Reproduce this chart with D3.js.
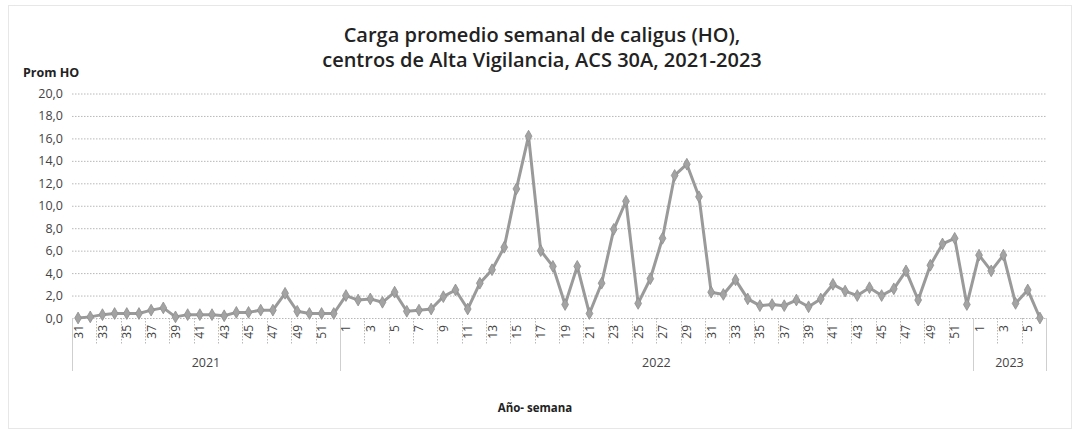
<!DOCTYPE html>
<html>
<head>
<meta charset="utf-8">
<script src="https://cdn.jsdelivr.net/npm/d3@7"></script>
<style>
  body { margin: 0; background: #fff; }
  svg { display: block; font-family: "Open Sans", "Liberation Sans", sans-serif; }
</style>
</head>
<body>
<div class="chart"></div>
<script>
// weeks per year (category axis)
var weeks2021 = [31, 32, 33, 34, 35, 36, 37, 38, 39, 40, 41, 42, 43, 44, 45, 46, 47, 48, 49, 50, 51, 52];
var values2021 = [0.0, 0.1, 0.3, 0.4, 0.4, 0.4, 0.7, 0.9, 0.1, 0.3, 0.3, 0.3, 0.2, 0.5, 0.5, 0.7, 0.7, 2.2, 0.6, 0.4, 0.4, 0.4];

var weeks2022 = [1, 2, 3, 4, 5, 6, 7, 8, 9, 10, 11, 12, 13, 14, 15, 16, 17, 18, 19, 20, 21, 22, 23, 24, 25, 26,
                 27, 28, 29, 30, 31, 32, 33, 34, 35, 36, 37, 38, 39, 40, 41, 42, 43, 44, 45, 46, 47, 48, 49, 50, 51, 52];
var values2022 = [2.0, 1.6, 1.7, 1.4, 2.3, 0.6, 0.7, 0.8, 1.9, 2.5, 0.8, 3.1, 4.3, 6.3, 11.5, 16.2, 6.0, 4.6, 1.2, 4.6, 0.4, 3.1, 7.9, 10.4, 1.3, 3.5,
                  7.1, 12.7, 13.7, 10.8, 2.3, 2.1, 3.4, 1.7, 1.1, 1.2, 1.1, 1.6, 1.0, 1.7, 3.0, 2.4, 2.0, 2.7, 2.0, 2.6, 4.2, 1.6, 4.7, 6.6, 7.1, 1.2];

var weeks2023 = [1, 2, 3, 4, 5, 6];
var values2023 = [5.6, 4.2, 5.6, 1.3, 2.5, 0.0];

var years = ["2021", "2022", "2023"];
var yTicks = [0, 2, 4, 6, 8, 10, 12, 14, 16, 18, 20];

var titleLines = ["Carga promedio semanal de caligus (HO),", "centros de Alta Vigilancia, ACS 30A, 2021-2023"];

//////// build table
var groups = [
    { year: years[0], weeks: weeks2021, values: values2021 },
    { year: years[1], weeks: weeks2022, values: values2022 },
    { year: years[2], weeks: weeks2023, values: values2023 }
];
var data = [];
groups.forEach(function(g) {
    g.weeks.forEach(function(w, i) {
        data.push({ key: g.year + "-" + w, year: g.year, week: w, value: g.values[i] });
    });
});

var width = 1074;
var height = 431;
// plot area (note: "top" is reserved on window, so prefixed names)
var plotLeft = 72, plotRight = 1046, plotTop = 93.5, plotBottom = 318;

var lineColor = "#9a9a9a";
var gridColor = "#b8b8b8";
var textColor = "#444";

var x = d3.scaleBand()
    .domain(data.map(function(d) { return d.key; }))
    .range([plotLeft, plotRight]);

var y = d3.scaleLinear()
    .domain([0, 20])
    .range([plotBottom, plotTop]);

var fmt = function(v) { return d3.format(".1f")(v).replace(".", ","); };

var svg = d3.select(".chart")
    .append("svg")
    .attr("width", width)
    .attr("height", height);

// outer dotted frame
svg.append("rect")
    .attr("x", 8.5).attr("y", 5.5)
    .attr("width", 1063).attr("height", 423)
    .attr("fill", "none")
    .attr("stroke", "#cfcfcf")
    .attr("stroke-dasharray", "1,1");

// title
svg.append("g").selectAll("text")
    .data(titleLines)
    .enter().append("text")
    .attr("x", 542)
    .attr("y", function(d, i) { return 42 + i * 25; })
    .attr("text-anchor", "middle")
    .attr("font-size", "20px")
    .attr("font-weight", 600)
    .attr("fill", "#222")
    .text(function(d) { return d; });

// y axis title
svg.append("text")
    .attr("x", 23).attr("y", 77)
    .attr("font-size", "12.5px")
    .attr("font-weight", 700)
    .attr("fill", "#222")
    .text("Prom HO");

//////// gridlines + y labels
var yAxis = d3.axisLeft(y)
    .tickValues(yTicks)
    .tickSize(-(plotRight - plotLeft))
    .tickPadding(9)
    .tickFormat(fmt);

var gy = svg.append("g")
    .attr("transform", "translate(" + plotLeft + ",0)")
    .call(yAxis);
gy.select(".domain").remove();
gy.selectAll(".tick line")
    .attr("stroke", gridColor)
    .attr("stroke-dasharray", "1.5,1.5");
gy.selectAll(".tick text")
    .attr("font-size", "12.5px")
    .attr("font-family", "'Open Sans', sans-serif")
    .attr("fill", textColor);

//////// x axis (weeks, every second one labelled)
var oddKeys = data.filter(function(d, i) { return i % 2 === 0; });

var gx = svg.append("g");

// small separators every two categories
gx.selectAll("line.sep")
    .data(oddKeys)
    .enter().append("line")
    .attr("class", "sep")
    .attr("x1", function(d) { return Math.round(x(d.key)) + 0.5; })
    .attr("x2", function(d) { return Math.round(x(d.key)) + 0.5; })
    .attr("y1", plotBottom)
    .attr("y2", plotBottom + 27)
    .attr("stroke", gridColor)
    .attr("stroke-dasharray", "1.5,1.5");

gx.selectAll("text.wk")
    .data(oddKeys)
    .enter().append("text")
    .attr("class", "wk")
    .attr("transform", function(d) {
        return "translate(" + (x(d.key) + x.bandwidth() / 2 + 4.5) + "," + (plotBottom + 7) + ") rotate(-90)";
    })
    .attr("text-anchor", "end")
    .attr("font-size", "12px")
    .attr("fill", textColor)
    .text(function(d) { return d.week; });

// year groups
var yearBounds = groups.map(function(g) {
    var first = g.year + "-" + g.weeks[0];
    var last = g.year + "-" + g.weeks[g.weeks.length - 1];
    return { year: g.year, x0: x(first), x1: x(last) + x.bandwidth() };
});

gx.selectAll("line.yr")
    .data([yearBounds[0].x0].concat(yearBounds.map(function(b) { return b.x1; })))
    .enter().append("line")
    .attr("class", "yr")
    .attr("x1", function(d) { return Math.round(d) + 0.5; })
    .attr("x2", function(d) { return Math.round(d) + 0.5; })
    .attr("y1", plotBottom)
    .attr("y2", plotBottom + 53)
    .attr("stroke", "#cfcfcf");

gx.selectAll("text.yr")
    .data(yearBounds)
    .enter().append("text")
    .attr("class", "yr")
    .attr("x", function(d) { return (d.x0 + d.x1) / 2; })
    .attr("y", plotBottom + 49)
    .attr("text-anchor", "middle")
    .attr("font-size", "12.5px")
    .attr("fill", textColor)
    .text(function(d) { return d.year; });

// x axis title
svg.append("text")
    .attr("x", 535).attr("y", 412)
    .attr("text-anchor", "middle")
    .attr("font-size", "11.5px")
    .attr("font-weight", 700)
    .attr("fill", "#222")
    .text("Año- semana");

//////// series
var line = d3.line()
    .x(function(d) { return x(d.key) + x.bandwidth() / 2; })
    .y(function(d) { return y(d.value); });

svg.append("path")
    .datum(data)
    .attr("d", line)
    .attr("fill", "none")
    .attr("stroke", lineColor)
    .attr("stroke-width", 3)
    .attr("stroke-linejoin", "round");

svg.append("g").selectAll("path")
    .data(data)
    .enter().append("path")
    .attr("d", d3.symbol().type(d3.symbolDiamond).size(40))
    .attr("transform", function(d) {
        return "translate(" + (x(d.key) + x.bandwidth() / 2) + "," + y(d.value) + ")";
    })
    .attr("fill", "#a3a3a3")
    .attr("stroke", "#8e8e8e")
    .attr("stroke-width", 0.8);
</script>
</body>
</html>
